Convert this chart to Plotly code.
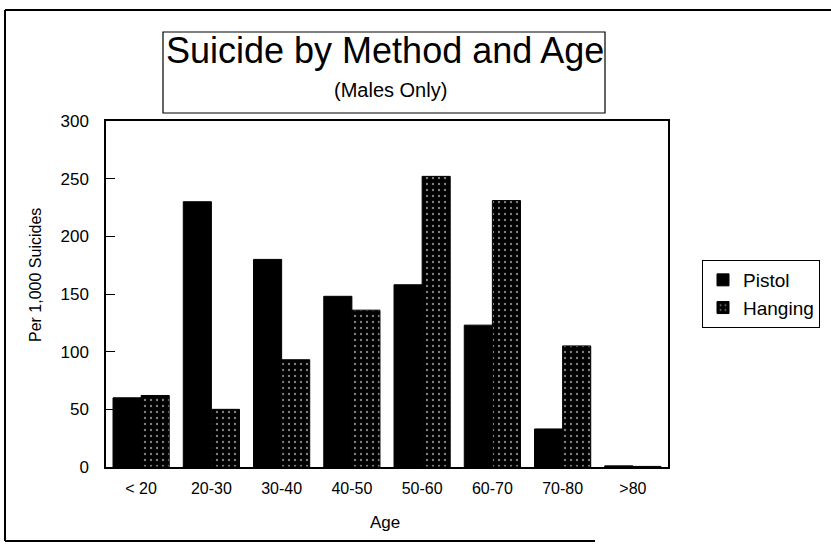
import plotly.graph_objects as go

ages = ["< 20", "20-30", "30-40", "40-50", "50-60", "60-70", "70-80", ">80"]
pistol = [60, 230, 180, 148, 158, 123, 33, 1]
hanging = [62, 50, 93, 136, 252, 231, 105, 0.5]

W, H = 831, 547
L, R, T, B = 106, 163, 121, 80


def px_x(x):
    return (x - L) / (W - L - R)


def px_y(y):
    return (H - B - y) / (H - T - B)


fig = go.Figure()
fig.add_trace(go.Bar(
    x=ages, y=pistol, name="Pistol",
    marker=dict(color="#000000", line=dict(color="#000000", width=1)),
))
fig.add_trace(go.Bar(
    x=ages, y=hanging, name="Hanging",
    marker=dict(
        color="#000000",
        line=dict(color="#000000", width=1),
        pattern=dict(shape=".", fgcolor="#ffffff", bgcolor="#000000",
                     size=6, solidity=0.12, fillmode="overlay"),
    ),
))

font = "Liberation Sans, Arial, sans-serif"

fig.update_layout(
    width=W, height=H,
    margin=dict(l=L, r=R, t=T, b=B, autoexpand=False),
    paper_bgcolor="white", plot_bgcolor="white",
    font=dict(family=font, color="#000000", size=16),
    barmode="group", bargap=0.2, bargroupgap=0.0,
    showlegend=True,
    legend=dict(
        x=px_x(702), y=px_y(260), xanchor="left", yanchor="top",
        bordercolor="#000000", borderwidth=1, bgcolor="white",
        font=dict(size=19), tracegroupgap=0,
    ),
    xaxis=dict(
        showline=True, linecolor="#000000", linewidth=1.5, mirror=True,
        ticks="", showgrid=False, ticklabelstandoff=6,
        tickfont=dict(size=16),
    ),
    yaxis=dict(
        range=[0, 300], dtick=50,
        showline=True, linecolor="#000000", linewidth=1.5, mirror=True,
        ticks="inside", ticklen=9, tickcolor="#000000",
        showgrid=False, zeroline=False, ticklabelstandoff=12,
        tickfont=dict(size=17),
    ),
)

# axis titles
fig.add_annotation(text="Age", xref="paper", yref="paper",
                   x=px_x(385), y=px_y(522), xanchor="center", yanchor="middle",
                   showarrow=False, font=dict(size=17))
fig.add_annotation(text="Per 1,000 Suicides", xref="paper", yref="paper",
                   x=px_x(35), y=px_y(275), xanchor="center", yanchor="middle",
                   showarrow=False, textangle=-90, font=dict(size=16))

# outer frame lines
frame = dict(color="#000000", width=2)
fig.add_shape(type="line", xref="paper", yref="paper",
              x0=px_x(5), x1=px_x(831), y0=px_y(10), y1=px_y(10), line=frame)
fig.add_shape(type="line", xref="paper", yref="paper",
              x0=px_x(5), x1=px_x(5), y0=px_y(10), y1=px_y(541), line=frame)
fig.add_shape(type="line", xref="paper", yref="paper",
              x0=px_x(5), x1=px_x(595), y0=px_y(541), y1=px_y(541), line=frame)

# title box
fig.add_shape(type="rect", xref="paper", yref="paper",
              x0=px_x(163), x1=px_x(605), y0=px_y(113), y1=px_y(32),
              line=dict(color="#000000", width=1.2), fillcolor="white")
fig.add_annotation(text="Suicide by Method and Age", xref="paper", yref="paper",
                   x=px_x(385), y=px_y(50), xanchor="center", yanchor="middle",
                   showarrow=False, font=dict(size=36))
fig.add_annotation(text="(Males Only)", xref="paper", yref="paper",
                   x=px_x(390), y=px_y(90), xanchor="center", yanchor="middle",
                   showarrow=False, font=dict(size=20))

fig.write_html("out.html", config={"displayModeBar": False},
               post_script="document.body.style.margin='0';")
